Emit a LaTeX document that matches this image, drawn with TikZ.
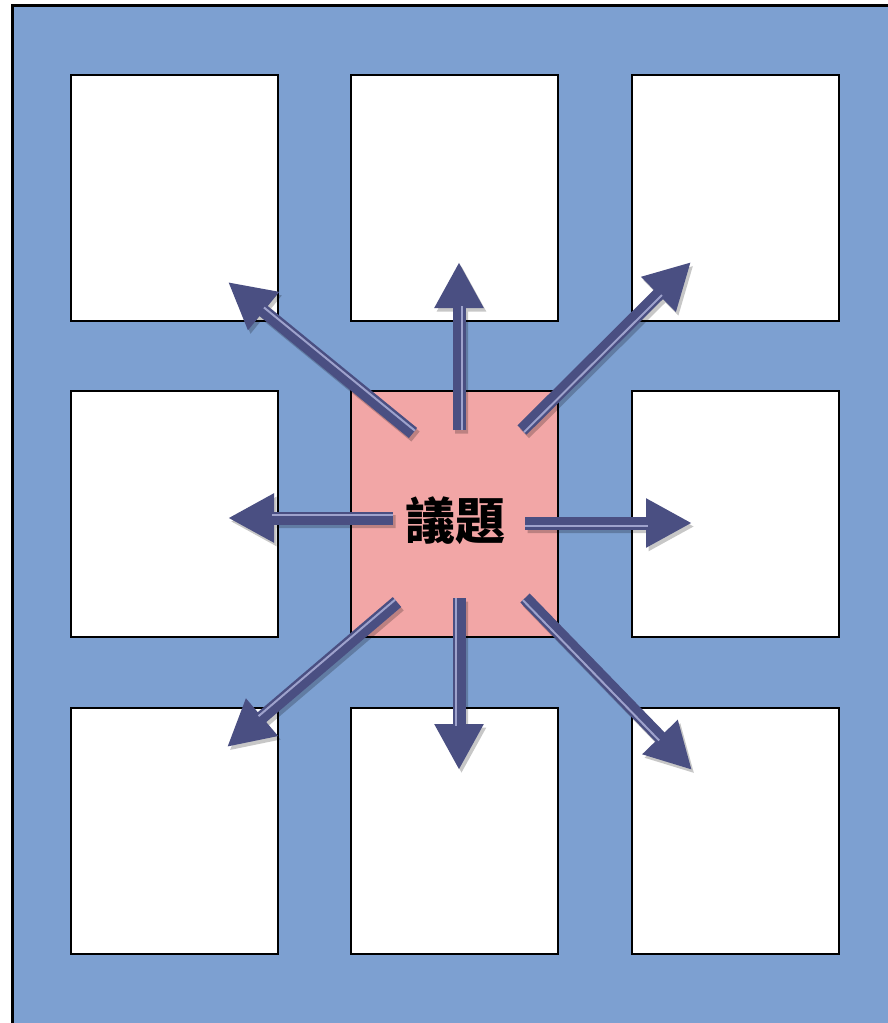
\documentclass[tikz,border=0pt]{standalone}
\usepackage{fontspec}
\newfontfamily\cjk{Noto Sans CJK TC}
\usetikzlibrary{arrows.meta,calc}

\definecolor{bgblue}{HTML}{7DA0D1}
\definecolor{topicpink}{HTML}{F2A6A6}
\definecolor{arrowblue}{HTML}{4A4F82}
\definecolor{stripe}{HTML}{9EA2CC}

\tikzset{
  cell/.style={draw=black, line width=2.5pt, fill=white, minimum width=207pt, minimum height=246pt, inner sep=0pt, outer sep=0pt, anchor=north west},
  bigarrow/.style={-{Triangle[length=46pt,width=46pt]}, arrowblue, line width=13pt},
  topic/.style={font=\cjk\bfseries\fontsize{50}{50}\selectfont, inner sep=0pt}
}

\begin{document}
\begin{tikzpicture}[x=1pt,y=-1pt]
\useasboundingbox (0,0) rectangle (887,1023);
% background
\draw[line width=3pt, fill=bgblue] (12,5) rectangle (900,1036);

% the nine cells
\foreach \row/\y in {1/75,2/391,3/708} {
  \foreach \col/\x in {1/71,2/351,3/632} {
    \node[cell] (b\row\col) at (\x,\y) {};
  }
}
\node[cell, fill=topicpink] at (351,391) {};
\node[topic] (topic) at (455,521) {議題};

% arrows out of the centre
\foreach \name/\sx/\sy/\ex/\ey in {n/459/430/459/262, ne/522/430/691/262, nw/413/433/228/282, w/393/518/228/518,
                                   e/525/523/692/523, sw/397/602/227/747, s/459/598/459/770, se/525/598/692/770} {
  \coordinate (from-\name) at (\sx,\sy);
  \coordinate (to-\name) at (\ex,\ey);
  \coordinate (base-\name) at ($(to-\name)!44pt!(from-\name)$);
  % shadow
  \begin{scope}[transparency group, opacity=.22, transform canvas={shift={(2.5pt,-3.5pt)}}]
    \draw[bigarrow, black] (from-\name) -- (to-\name);
  \end{scope}
  \draw[bigarrow] (from-\name) -- (to-\name);
  \draw[stripe, line width=2pt] ($(from-\name)!3pt!-90:(to-\name)$) -- ($(base-\name)!3pt!90:(from-\name)$);
}
\end{tikzpicture}
\end{document}
